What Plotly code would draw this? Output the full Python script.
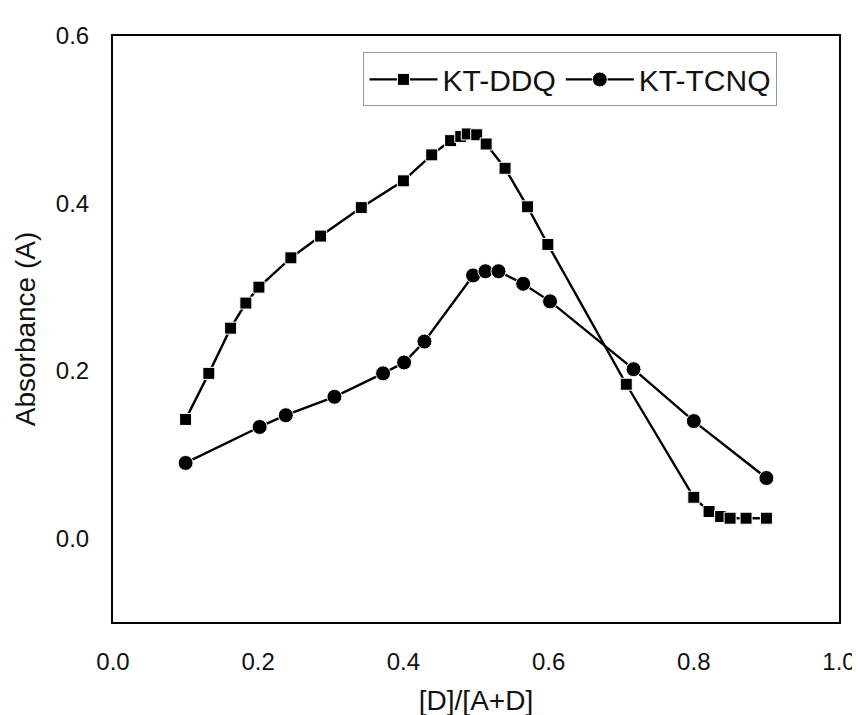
import plotly.graph_objects as go

ddq_x = [0.10, 0.132, 0.162, 0.183, 0.201, 0.245, 0.286, 0.342, 0.40, 0.439, 0.465, 0.479,
         0.488, 0.501, 0.514, 0.540, 0.571, 0.599, 0.707, 0.80, 0.821, 0.837, 0.85, 0.872, 0.90]
ddq_y = [0.142, 0.197, 0.251, 0.281, 0.300, 0.335, 0.361, 0.395, 0.427, 0.458, 0.475, 0.480,
         0.483, 0.482, 0.471, 0.442, 0.396, 0.351, 0.184, 0.049, 0.032, 0.026, 0.024, 0.024, 0.024]

tcnq_x = [0.10, 0.202, 0.238, 0.305, 0.372, 0.401, 0.429, 0.496, 0.513, 0.531, 0.565, 0.602,
          0.717, 0.80, 0.90]
tcnq_y = [0.090, 0.133, 0.147, 0.169, 0.197, 0.210, 0.235, 0.314, 0.319, 0.319, 0.304, 0.283,
          0.202, 0.140, 0.072]

x_ticks = [0.0, 0.2, 0.4, 0.6, 0.8, 1.0]
y_ticks = [0.0, 0.2, 0.4, 0.6]

FONT = "Liberation Sans, Arial, sans-serif"

fig = go.Figure()
fig.add_trace(go.Scatter(
    x=ddq_x, y=ddq_y, mode="lines+markers", name="KT-DDQ",
    line=dict(color="black", width=2.4),
    marker=dict(symbol="square", size=12, color="black", line=dict(color="white", width=1)),
))
fig.add_trace(go.Scatter(
    x=tcnq_x, y=tcnq_y, mode="lines+markers", name="KT-TCNQ",
    line=dict(color="black", width=2.4),
    marker=dict(symbol="circle", size=15, color="black", line=dict(color="white", width=1)),
))

fig.update_layout(
    width=860, height=715,
    margin=dict(l=105, r=17, t=28, b=91),
    paper_bgcolor="white", plot_bgcolor="white",
    font=dict(family=FONT, color="#111111"),
    showlegend=True,
    legend=dict(
        orientation="h", x=0.345, y=0.972, xanchor="left", yanchor="top",
        font=dict(size=30, family=FONT, color="#111111"),
        bordercolor="#999999", borderwidth=1, bgcolor="white",
        itemwidth=68, tracegroupgap=0,
    ),
    xaxis=dict(
        range=[0, 1], tickvals=x_ticks, ticktext=[f"{v:.1f}" for v in x_ticks],
        showgrid=False, zeroline=False, ticks="",
        showline=True, linecolor="black", linewidth=2, mirror=True,
        tickfont=dict(size=24, family=FONT, color="#111111"),
        ticklabelstandoff=17,
        title=dict(text="[D]/[A+D]", font=dict(size=28, family=FONT, color="#111111"), standoff=17),
    ),
    yaxis=dict(
        range=[-0.1, 0.6], tickvals=y_ticks, ticktext=[f"{v:.1f}" for v in y_ticks],
        showgrid=False, zeroline=False, ticks="",
        showline=True, linecolor="black", linewidth=2, mirror=True,
        tickfont=dict(size=24, family=FONT, color="#111111"),
        ticklabelstandoff=17,
        title=dict(text="Absorbance (A)", font=dict(size=28, family=FONT, color="#111111"), standoff=12),
    ),
)

fig.write_html("out.html")
